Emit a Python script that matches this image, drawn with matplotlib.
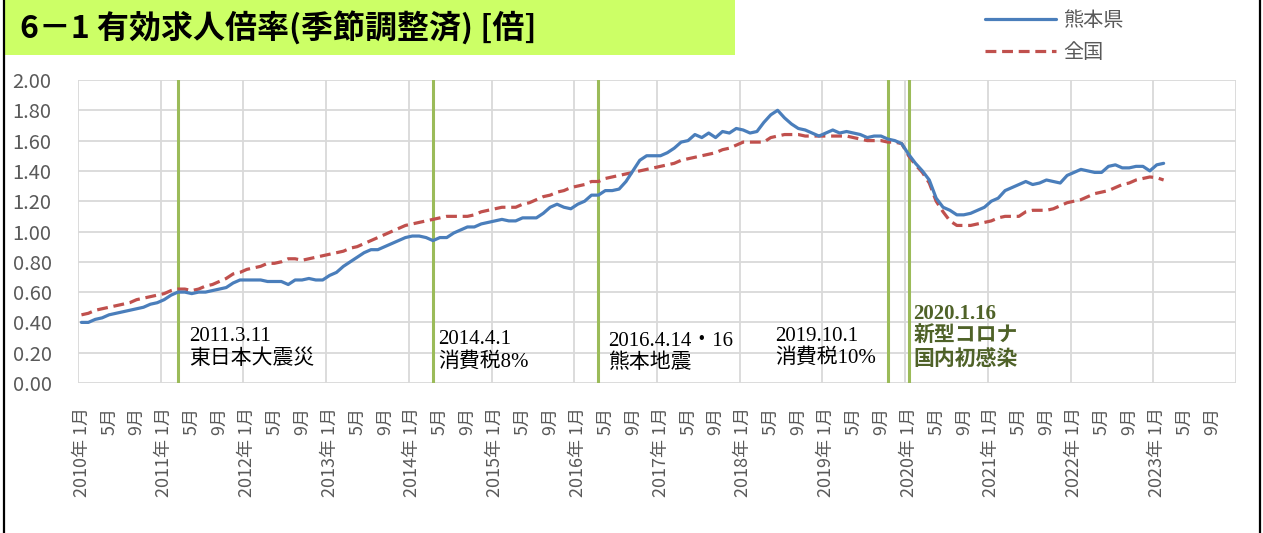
import matplotlib
matplotlib.use("Agg")
import matplotlib.pyplot as plt
from matplotlib.patches import Rectangle
from matplotlib.lines import Line2D

plt.rcParams["font.family"] = ["Noto Sans CJK JP", "DejaVu Sans"]

# Monthly values, 2010-01 .. 2023-02 (seasonally adjusted job-opening ratio)
kumamoto = [
    0.40, 0.40, 0.42, 0.43, 0.45, 0.46, 0.47, 0.48, 0.49, 0.50, 0.52, 0.53,  # 2010
    0.55, 0.58, 0.60, 0.60, 0.59, 0.60, 0.60, 0.61, 0.62, 0.63, 0.66, 0.68,  # 2011
    0.68, 0.68, 0.68, 0.67, 0.67, 0.67, 0.65, 0.68, 0.68, 0.69, 0.68, 0.68,  # 2012
    0.71, 0.73, 0.77, 0.80, 0.83, 0.86, 0.88, 0.88, 0.90, 0.92, 0.94, 0.96,  # 2013
    0.97, 0.97, 0.96, 0.94, 0.96, 0.96, 0.99, 1.01, 1.03, 1.03, 1.05, 1.06,  # 2014
    1.07, 1.08, 1.07, 1.07, 1.09, 1.09, 1.09, 1.12, 1.16, 1.18, 1.16, 1.15,  # 2015
    1.18, 1.20, 1.24, 1.24, 1.27, 1.27, 1.28, 1.33, 1.40, 1.47, 1.50, 1.50,  # 2016
    1.50, 1.52, 1.55, 1.59, 1.60, 1.64, 1.62, 1.65, 1.62, 1.66, 1.65, 1.68,  # 2017
    1.67, 1.65, 1.66, 1.72, 1.77, 1.80, 1.75, 1.71, 1.68, 1.67, 1.65, 1.63,  # 2018
    1.65, 1.67, 1.65, 1.66, 1.65, 1.64, 1.62, 1.63, 1.63, 1.61, 1.60, 1.58,  # 2019
    1.51, 1.45, 1.40, 1.34, 1.22, 1.16, 1.14, 1.11, 1.11, 1.12, 1.14, 1.16,  # 2020
    1.20, 1.22, 1.27, 1.29, 1.31, 1.33, 1.31, 1.32, 1.34, 1.33, 1.32, 1.37,  # 2021
    1.39, 1.41, 1.40, 1.39, 1.39, 1.43, 1.44, 1.42, 1.42, 1.43, 1.43, 1.40,  # 2022
    1.44, 1.45,                                                              # 2023
]
national = [
    0.45, 0.46, 0.48, 0.49, 0.50, 0.51, 0.52, 0.53, 0.55, 0.56, 0.57, 0.58,
    0.59, 0.61, 0.62, 0.62, 0.61, 0.62, 0.64, 0.65, 0.67, 0.69, 0.72, 0.73,
    0.75, 0.76, 0.77, 0.79, 0.79, 0.80, 0.82, 0.82, 0.81, 0.82, 0.83, 0.84,
    0.85, 0.86, 0.87, 0.89, 0.90, 0.92, 0.94, 0.96, 0.98, 1.00, 1.02, 1.04,
    1.05, 1.06, 1.07, 1.08, 1.09, 1.10, 1.10, 1.10, 1.10, 1.11, 1.13, 1.14,
    1.15, 1.16, 1.16, 1.16, 1.18, 1.19, 1.21, 1.23, 1.24, 1.26, 1.27, 1.29,
    1.30, 1.31, 1.33, 1.33, 1.35, 1.36, 1.37, 1.38, 1.39, 1.40, 1.41, 1.42,
    1.43, 1.44, 1.45, 1.47, 1.48, 1.49, 1.50, 1.51, 1.52, 1.54, 1.55, 1.57,
    1.59, 1.59, 1.59, 1.59, 1.62, 1.63, 1.64, 1.64, 1.64, 1.63, 1.63, 1.63,
    1.63, 1.63, 1.63, 1.63, 1.62, 1.61, 1.60, 1.60, 1.60, 1.59, 1.59, 1.58,
    1.50, 1.44, 1.39, 1.32, 1.20, 1.13, 1.07, 1.04, 1.04, 1.04, 1.05, 1.06,
    1.07, 1.09, 1.10, 1.10, 1.10, 1.13, 1.14, 1.14, 1.14, 1.15, 1.17, 1.19,
    1.20, 1.21, 1.23, 1.25, 1.26, 1.27, 1.29, 1.31, 1.32, 1.34, 1.35, 1.36,
    1.355, 1.34,
]

years = list(range(2010, 2024))
tick_months = [1, 5, 9]

# Events: month index from 2010-01, label text, label anchor (index, value)
event_idx = [14, 51, 75, 117, 120]
event_text = [
    "2011.3.11\n東日本大震災",
    "2014.4.1\n消費税8%",
    "2016.4.14・16\n熊本地震",
    "2019.10.1\n消費税10%",
    "2020.1.16\n新型コロナ\n国内初感染",
]
text_x = [15.6, 51.8, 76.4, 100.7, 120.7]
text_y = [0.23, 0.21, 0.20, 0.235, 0.305]

W, H = 1263, 533
fig = plt.figure(figsize=(W / 100, H / 100), dpi=100)

# title band
fig.patches.append(Rectangle((5 / W, 1 - 55 / H), 730 / W, 55 / H,
                             transform=fig.transFigure, facecolor="#CCFF66",
                             edgecolor="none", zorder=0))
fig.text(20 / W, 1 - 29 / H, "6－1 有効求人倍率(季節調整済) [倍]",
         fontsize=23, fontweight="bold", color="black", va="center", ha="left")
# frame edges
fig.add_artist(Line2D([4 / W, 4 / W], [0, 1], transform=fig.transFigure,
                      color="black", lw=1.6))
fig.add_artist(Line2D([1260 / W, 1260 / W], [0, 1], transform=fig.transFigure,
                      color="black", lw=1.6))

ax = fig.add_axes([78 / W, 1 - 383 / H, (1236 - 78) / W, (383 - 80) / H])

n_cat = len(years) * 12
x_k = list(range(len(kumamoto)))
x_n = list(range(len(national)))

ax.plot(x_k, kumamoto, color="#4A7EBB", lw=2.3, label="熊本県", zorder=4,
        solid_capstyle="round")
red, = ax.plot(x_n, national, color="#C0504D", lw=2.3, label="全国", zorder=3)
red.set_dashes([3.4, 1.8])

for idx in event_idx:
    ax.axvline(idx, color="#9BBB59", lw=2.2, zorder=2)

for i, (tx, ty, s) in enumerate(zip(text_x, text_y, event_text)):
    hl = i == len(event_text) - 1
    ax.text(tx, ty, s, fontsize=15, linespacing=1.2,
            family=["Liberation Serif", "Noto Sans CJK JP"],
            color="#4F6228" if hl else "black",
            fontweight="bold" if hl else "normal",
            ha="left", va="center", zorder=5)

ax.set_xlim(-0.5, n_cat - 0.5)
ax.set_ylim(0, 2.0)
ax.set_yticks([i * 0.2 for i in range(11)])
ax.set_yticklabels([f"{i * 0.2:.2f}" for i in range(11)])

tick_pos, tick_lab = [], []
for yi, yr in enumerate(years):
    for m in tick_months:
        tick_pos.append(yi * 12 + m - 1)
        tick_lab.append(f"{yr}年 1月" if m == 1 else f"{m}月")
ax.set_xticks(tick_pos)
ax.set_xticklabels(tick_lab, rotation=90, va="top", ha="center")
ax.set_xticks([yi * 12 - 0.5 for yi in range(len(years) + 1)], minor=True)

ax.tick_params(axis="x", which="both", length=0, pad=17, labelsize=13,
               labelcolor="#595959")
ax.tick_params(axis="y", length=0, pad=19, labelsize=14.5, labelcolor="#595959")

ax.grid(True, axis="y", color="#D9D9D9", lw=1.3, zorder=0)
ax.grid(True, axis="x", which="minor", color="#D9D9D9", lw=1.3, zorder=0)
ax.grid(False, axis="x", which="major")
for sp in ax.spines.values():
    sp.set_visible(False)

ax.legend(loc="upper left", bbox_to_anchor=(967 / W, 1 + 8 / H),
          bbox_transform=fig.transFigure, frameon=False, fontsize=14.5,
          handlelength=3.5, handletextpad=0.4, labelspacing=0.55,
          labelcolor="#595959")

fig.savefig("out.png", dpi=100)
